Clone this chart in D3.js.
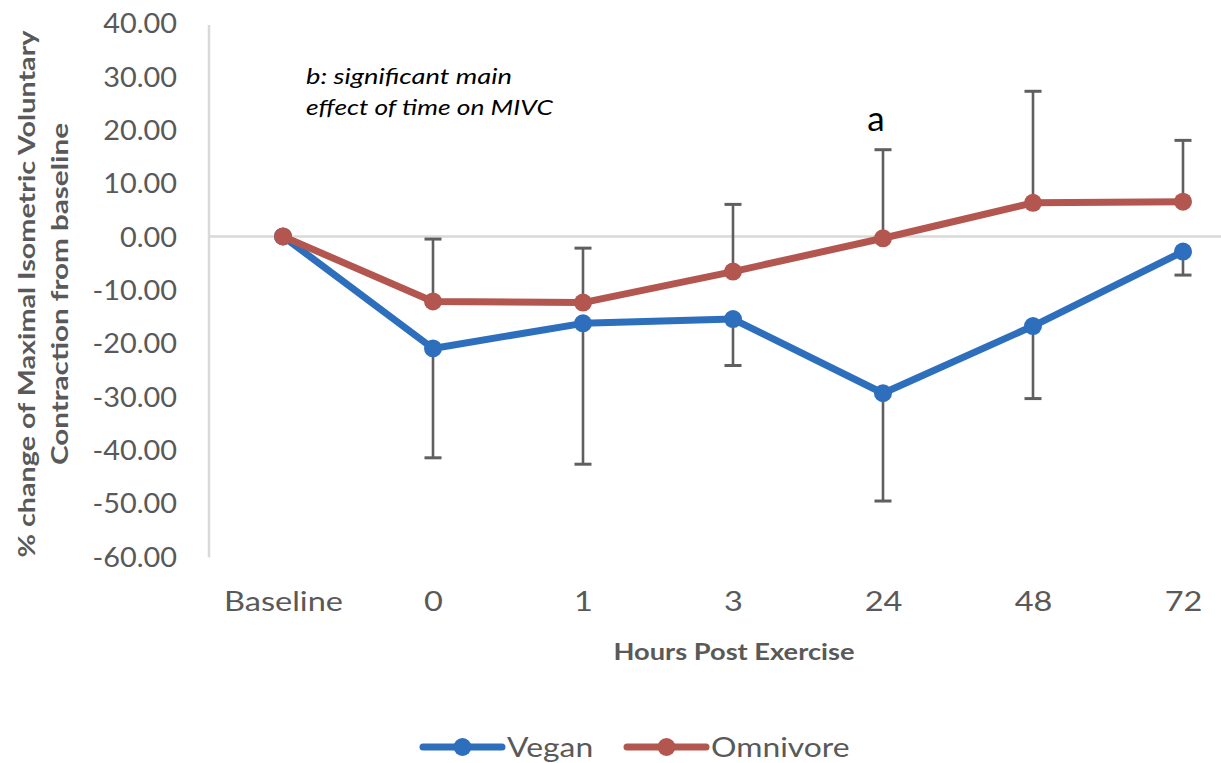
<!DOCTYPE html>
<html>
<head>
<meta charset="utf-8">
<script src="https://cdn.jsdelivr.net/npm/d3@7"></script>
<style>
  html, body { margin: 0; padding: 0; background: #fff; }
  svg { display: block; }
  text { font-family: Lato, "Open Sans", sans-serif; }
</style>
</head>
<body>
<svg id="chart" width="1221" height="763"></svg>
<script>
// Time points (hours post exercise)
const categories = ["Baseline", "0", "1", "3", "24", "48", "72"];

// Mean % change of MIVC from baseline
const veganMean = [0, -21.0, -16.3, -15.5, -29.4, -16.8, -2.85];
const omnivoreMean = [0, -12.2, -12.4, -6.6, -0.35, 6.3, 6.5];

// Error bar sizes (vegan shown below, omnivore shown above)
const veganErr = [0, 20.5, 26.4, 8.7, 20.2, 13.6, 4.4];
const omnivoreErr = [0, 11.7, 10.2, 12.6, 16.6, 20.9, 11.5];

const yTicks = [40, 30, 20, 10, 0, -10, -20, -30, -40, -50, -60];

const seriesNames = ["Vegan", "Omnivore"];
const colors = { Vegan: "#2e6fbd", Omnivore: "#b3564f" };

const svg = d3.select("#chart");

// Widen glyphs horizontally to get the narrow-height, wide-set lettering
function widen(sel, k) {
  sel.each(function () {
    const w = this.getComputedTextLength();
    d3.select(this).attr("textLength", w * k).attr("lengthAdjust", "spacingAndGlyphs");
  });
}

const plotLeft = 209, plotRight = 1259;
const x = d3.scalePoint().domain(categories).range([283, 1183]);
const y = d3.scaleLinear().domain([-60, 40]).range([556.5, 23]);

// Vertical axis line
svg.append("line")
  .attr("x1", plotLeft).attr("x2", plotLeft)
  .attr("y1", y(40) + 2).attr("y2", y(-60) + 1)
  .attr("stroke", "#d9d9d9").attr("stroke-width", 2.5);

// Y tick labels
const fmt = d3.format(".2f");
const yAxis = d3.axisLeft(y)
  .tickValues(yTicks)
  .tickSize(0)
  .tickPadding(32)
  .tickFormat(d => fmt(d).replace("\u2212", "-"));
const gy = svg.append("g").attr("transform", `translate(${plotLeft},0)`).call(yAxis);
gy.select(".domain").remove();
gy.selectAll("text")
  .attr("fill", "#595959")
  .style("font-size", "27px")
  .attr("dy", "0.36em")
  .call(widen, 1.07);

// Horizontal axis at zero
svg.append("line")
  .attr("x1", plotLeft).attr("x2", plotRight)
  .attr("y1", y(0)).attr("y2", y(0))
  .attr("stroke", "#d9d9d9").attr("stroke-width", 2.5);

// Category labels
const xAxis = d3.axisBottom(x).tickSize(0).tickPadding(0);
const gx = svg.append("g").attr("transform", "translate(0,602)").call(xAxis);
gx.select(".domain").remove();
gx.selectAll("text")
  .attr("fill", "#595959")
  .attr("y", 0)
  .attr("dy", "0.36em")
  .style("font-size", "26px")
  .call(widen, 1.25);

// Axis titles
svg.append("text")
  .attr("x", 734).attr("y", 652).attr("dy", "0.36em")
  .attr("text-anchor", "middle")
  .attr("fill", "#595959")
  .style("font-size", "23px").style("font-weight", "bold")
  .attr("textLength", 241).attr("lengthAdjust", "spacingAndGlyphs")
  .text("Hours Post Exercise");

const yTitle = svg.append("g").attr("transform", "translate(0,294) rotate(-90)");
yTitle.append("text")
  .attr("x", 0).attr("y", 27).attr("dy", "0.36em")
  .attr("text-anchor", "middle")
  .attr("fill", "#595959")
  .style("font-size", "23px").style("font-weight", "bold")
  .attr("textLength", 527).attr("lengthAdjust", "spacingAndGlyphs")
  .text("% change of Maximal Isometric Voluntary");
yTitle.append("text")
  .attr("x", 0).attr("y", 60).attr("dy", "0.36em")
  .attr("text-anchor", "middle")
  .attr("fill", "#595959")
  .style("font-size", "23px").style("font-weight", "bold")
  .attr("textLength", 342).attr("lengthAdjust", "spacingAndGlyphs")
  .text("Contraction from baseline");

// Error bars
const errColor = "#5f5f5f";
function drawErrors(means, errs, dir, key) {
  const g = svg.append("g").attr("class", "err-" + key);
  categories.forEach((c, i) => {
    if (!errs[i]) return;
    const cx = x(c);
    const end = means[i] + dir * errs[i];
    g.append("line")
      .attr("x1", cx).attr("x2", cx)
      .attr("y1", y(means[i])).attr("y2", y(end))
      .attr("stroke", errColor).attr("stroke-width", 2.6);
    g.append("line")
      .attr("x1", cx - 8.5).attr("x2", cx + 8.5)
      .attr("y1", y(end)).attr("y2", y(end))
      .attr("stroke", errColor).attr("stroke-width", 3);
  });
}
drawErrors(omnivoreMean, omnivoreErr, 1, "omnivore");
drawErrors(veganMean, veganErr, -1, "vegan");

// Lines and markers
const line = d3.line().x((d, i) => x(categories[i])).y(d => y(d));
function drawSeries(values, color) {
  svg.append("path")
    .datum(values)
    .attr("d", line)
    .attr("fill", "none")
    .attr("stroke", color)
    .attr("stroke-width", 7)
    .attr("stroke-linejoin", "round");
  svg.append("g").selectAll("circle")
    .data(values)
    .join("circle")
    .attr("cx", (d, i) => x(categories[i]))
    .attr("cy", d => y(d))
    .attr("r", 9)
    .attr("fill", color);
}
drawSeries(veganMean, colors.Vegan);
drawSeries(omnivoreMean, colors.Omnivore);

// Annotations
svg.append("text")
  .attr("x", 306).attr("y", 84)
  .attr("fill", "#000")
  .style("font-size", "21px").style("font-style", "italic")
  .attr("textLength", 206).attr("lengthAdjust", "spacingAndGlyphs")
  .text("b: significant main");
svg.append("text")
  .attr("x", 306).attr("y", 115)
  .attr("fill", "#000")
  .style("font-size", "21px").style("font-style", "italic")
  .attr("textLength", 247).attr("lengthAdjust", "spacingAndGlyphs")
  .text("effect of time on MIVC");

svg.append("text")
  .attr("x", x("24") - 7).attr("y", 131)
  .attr("text-anchor", "middle")
  .attr("fill", "#000")
  .style("font-size", "35px")
  .text("a");

// Legend
const legendItems = [
  { name: seriesNames[0], x0: 423 },
  { name: seriesNames[1], x0: 627 }
];
const legendY = 747;
legendItems.forEach(item => {
  const g = svg.append("g");
  g.append("line")
    .attr("x1", item.x0).attr("x2", item.x0 + 79)
    .attr("y1", legendY).attr("y2", legendY)
    .attr("stroke", colors[item.name]).attr("stroke-width", 7)
    .attr("stroke-linecap", "round");
  g.append("circle")
    .attr("cx", item.x0 + 39.5).attr("cy", legendY).attr("r", 9)
    .attr("fill", colors[item.name]);
  g.append("text")
    .attr("x", item.x0 + 84).attr("y", legendY).attr("dy", "0.36em")
    .attr("fill", "#595959")
    .style("font-size", "27px")
    .text(item.name)
    .call(widen, 1.18);
});
</script>
</body>
</html>
